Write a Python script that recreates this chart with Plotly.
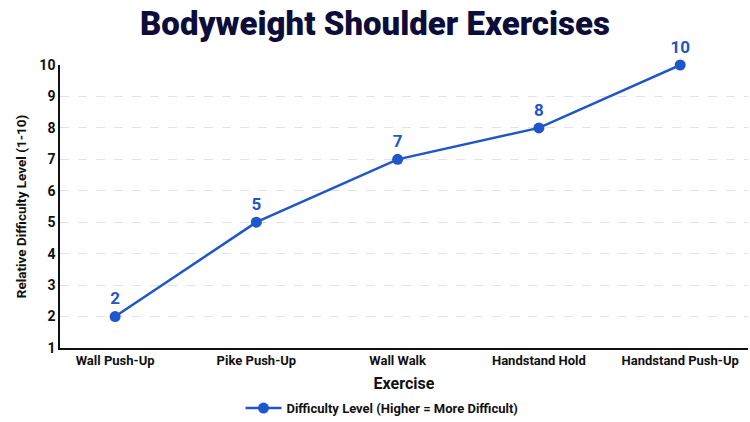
import plotly.graph_objects as go

exercises = ["Wall Push-Up", "Pike Push-Up", "Wall Walk", "Handstand Hold", "Handstand Push-Up"]
difficulty = [2, 5, 7, 8, 10]
series_name = "Difficulty Level (Higher = More Difficult)"
y_ticks = [1, 2, 3, 4, 5, 6, 7, 8, 9, 10]

blue = "#1f56c9"

fig = go.Figure()
fig.add_trace(go.Scatter(
    x=exercises, y=difficulty, mode="lines+markers+text",
    name=series_name,
    line=dict(color=blue, width=2.5),
    marker=dict(color=blue, size=11),
    text=[str(v) for v in difficulty],
    textposition="top center",
    textfont=dict(family="Roboto", size=17, color=blue, weight="bold"),
    cliponaxis=False,
))

fig.update_layout(
    width=750, height=422,
    margin=dict(l=60, r=2, t=65, b=74),
    paper_bgcolor="white", plot_bgcolor="white",
    font=dict(family="Roboto", color="#111"),
    title=dict(text="Bodyweight Shoulder Exercises", x=0.5, xanchor="center",
               y=0.945, yanchor="middle",
               font=dict(family="Roboto", size=33, color="#0d0d3a", weight=900)),
    showlegend=True,
    legend=dict(orientation="h", x=0.468, xanchor="center", yref="container",
                y=0.033, yanchor="middle", itemwidth=36,
                font=dict(family="Roboto", size=13, color="#111", weight="bold")),
    xaxis=dict(
        type="category", range=[-0.39, 4.48], automargin=False,
        showline=True, linecolor="#111", linewidth=1.5,
        showgrid=False, ticks="",
        tickfont=dict(family="Roboto", size=13, color="#111", weight="bold"),
        title=dict(text="Exercise", standoff=11,
                   font=dict(family="Roboto", size=16, color="#111", weight="bold")),
    ),
    yaxis=dict(
        range=[1, 10], tickvals=y_ticks, automargin=False,
        showline=True, linecolor="#111", linewidth=1.5,
        showgrid=True, gridcolor="#e3e3e3", griddash="dash", gridwidth=1,
        zeroline=False, ticks="",
        tickfont=dict(family="Roboto", size=14, color="#111", weight="bold"),
        title=dict(text="Relative Difficulty Level (1-10)", standoff=10,
                   font=dict(family="Roboto", size=13.5, color="#111", weight="bold")),
    ),
)

fig.write_html("out.html")
